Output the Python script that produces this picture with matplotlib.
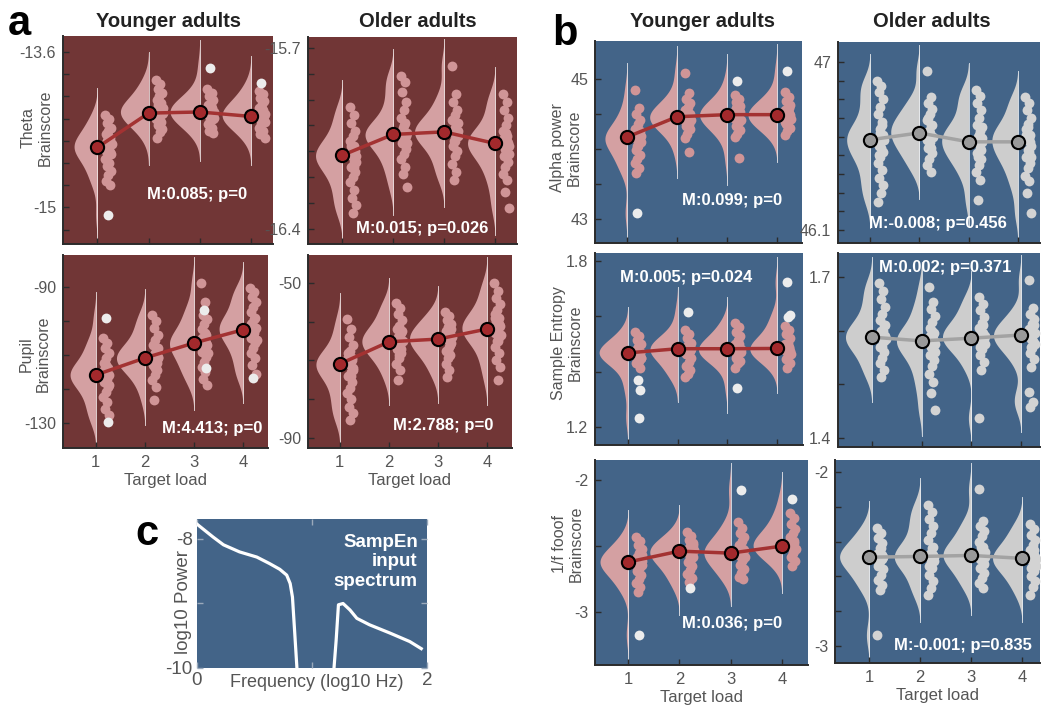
import numpy as np
import matplotlib
matplotlib.use("Agg")
import matplotlib.pyplot as plt

plt.rcParams["font.family"] = ["Liberation Sans", "DejaVu Sans"]

W, H = 1043, 711
LOADS = [1, 2, 3, 4]

# ---- panel a: theta, younger -------------------------------------------
THETA_YA_PTS = [
    [-14.17, -14.2, -14.24, -14.28, -14.31, -14.34, -14.37, -14.4, -14.42, -14.45,
     -14.48, -14.5, -14.53, -14.56, -14.6, -14.63, -14.67, -14.71, -14.76, -14.8,
     -14.4, -14.43, -14.46, -14.49, -14.52, -14.44],
    [-13.85, -13.89, -13.93, -13.97, -14.0, -14.03, -14.06, -14.08, -14.1, -14.12,
     -14.14, -14.16, -14.18, -14.2, -14.23, -14.26, -14.29, -14.32, -14.37,
     -14.1, -14.13, -14.15, -14.17, -14.2, -14.12],
    [-13.93, -13.97, -14.0, -14.03, -14.06, -14.08, -14.1, -14.12, -14.14, -14.16,
     -14.18, -14.2, -14.22, -14.25, -14.28, -14.31, -14.33,
     -14.09, -14.12, -14.14, -14.16, -14.19, -14.11],
    [-13.95, -13.98, -14.01, -14.04, -14.07, -14.1, -14.12, -14.14, -14.16, -14.18,
     -14.2, -14.22, -14.25, -14.28, -14.31, -14.34, -14.37,
     -14.13, -14.16, -14.18, -14.2, -14.23, -14.15],
]
THETA_YA_OUT = [[-15.07], [], [-13.74], [-13.88]]
THETA_YA_MEAN = [-14.46, -14.15, -14.14, -14.18]
THETA_YA_YT = [-15.2, -15.0, -14.8, -14.6, -14.4, -14.2, -14.0, -13.8, -13.6]
THETA_YA_YL = ["", "-15", "", "", "", "", "", "", "-13.6"]

# ---- panel a: theta, older ---------------------------------------------
THETA_OA_PTS = [
    [-15.93, -15.96, -15.99, -16.02, -16.04, -16.06, -16.08, -16.1, -16.12, -16.14,
     -16.16, -16.18, -16.2, -16.22, -16.25, -16.28, -16.31, -16.34,
     -16.08, -16.1, -16.12, -16.14, -16.16, -16.11],
    [-15.81, -15.83, -15.87, -15.91, -15.94, -15.97, -15.99, -16.01, -16.03, -16.05,
     -16.07, -16.09, -16.11, -16.13, -16.16, -16.19, -16.24,
     -16.0, -16.02, -16.04, -16.05, -16.07, -16.03],
    [-15.77, -15.88, -15.91, -15.94, -15.96, -15.98, -16.0, -16.02, -16.04, -16.06,
     -16.08, -16.1, -16.12, -16.15, -16.18, -16.21,
     -15.99, -16.01, -16.03, -16.04, -16.06, -16.02],
    [-15.88, -15.91, -15.94, -15.97, -16.0, -16.02, -16.04, -16.06, -16.08, -16.1,
     -16.12, -16.14, -16.16, -16.19, -16.21, -16.26, -16.32,
     -16.03, -16.05, -16.07, -16.09, -16.11, -16.06],
]
THETA_OA_OUT = [[], [], [], []]
THETA_OA_MEAN = [-16.116, -16.035, -16.025, -16.07]
THETA_OA_YT = [-16.4, -16.3, -16.2, -16.1, -16.0, -15.9, -15.8, -15.7]
THETA_OA_YL = ["-16.4", "", "", "", "", "", "", "-15.7"]

# ---- panel a: pupil, younger -------------------------------------------
PUPIL_YA_PTS = [
    [-105, -106.5, -108, -109.5, -111, -112.5, -114, -115, -116, -117, -118,
     -119.5, -121, -122.5, -124, -126, -127.6,
     -113, -114.5, -116, -117.5, -119, -115.5],
    [-98.2, -100, -102, -104, -105.5, -107, -108.5, -110, -111, -112, -113,
     -114.5, -116, -117.5, -119.4, -123.2,
     -108, -109.5, -111, -112.5, -114, -110.5],
    [-88.8, -94.4, -98.2, -99.5, -101, -102.5, -104, -105.5, -107, -108, -109,
     -110.5, -112, -113.5, -115, -117, -118.8,
     -103.5, -105, -106.5, -108, -109.5, -106],
    [-90.3, -91.5, -93, -94.5, -96, -97.5, -99, -100.5, -102, -103.5, -105,
     -106.5, -108, -109.5, -111, -113, -115.5,
     -99.5, -101, -102.5, -104, -105.5, -102],
]
PUPIL_YA_OUT = [[-99.1, -129.7], [], [-96.8, -113.8], [-116.8]]
PUPIL_YA_MEAN = [-115.9, -110.9, -106.5, -102.6]
PUPIL_YA_YT = [-130, -120, -110, -100, -90]
PUPIL_YA_YL = ["-130", "", "", "", "-90"]

# ---- panel a: pupil, older ---------------------------------------------
PUPIL_OA_PTS = [
    [-59.3, -62, -64, -66, -67.5, -69, -70, -71, -72, -73, -74, -75.5, -77,
     -78.5, -80, -82, -83.5, -85.4, -68, -69.5, -71, -72.5, -74, -70.5],
    [-55.2, -56.5, -58, -59.5, -61, -62, -63, -64, -65, -66, -67, -68, -69.5,
     -71, -72.5, -75, -62.5, -64, -65.5, -67, -68.5, -65],
    [-57.5, -58.5, -59.5, -60.5, -61.5, -62.5, -63.5, -64.5, -65.5, -66.5,
     -67.5, -68.5, -69.5, -71, -72.5, -74.3, -62, -63.5, -64.5, -66, -67.5, -64],
    [-50, -52, -54, -55.5, -57, -58, -59, -60, -61, -62, -63, -64, -65, -66.5,
     -68, -70, -71.7, -75, -59, -60.5, -62, -63.5, -65, -61.5],
]
PUPIL_OA_OUT = [[], [], [], []]
PUPIL_OA_MEAN = [-70.9, -65.2, -64.5, -61.9]
PUPIL_OA_YT = [-90, -80, -70, -60, -50]
PUPIL_OA_YL = ["-90", "", "", "", "-50"]

# ---- panel b: alpha power ----------------------------------------------
ALPHA_YA_PTS = [
    [44.84, 44.59, 44.5, 44.42, 44.35, 44.28, 44.22, 44.16, 44.1, 44.04, 43.98,
     43.92, 43.86, 43.8, 43.73, 43.66, 44.25, 44.2, 44.15, 44.1, 44.05, 44.18],
    [45.09, 44.8, 44.72, 44.65, 44.6, 44.55, 44.5, 44.46, 44.42, 44.38, 44.33,
     44.28, 44.22, 44.16, 43.96, 44.55, 44.5, 44.45, 44.4, 44.35, 44.47],
    [44.77, 44.72, 44.67, 44.62, 44.58, 44.54, 44.5, 44.46, 44.42, 44.38, 44.33,
     44.27, 44.21, 44.17, 43.87, 44.58, 44.53, 44.48, 44.43, 44.38, 44.5],
    [44.81, 44.74, 44.68, 44.63, 44.59, 44.55, 44.51, 44.47, 44.43, 44.39, 44.35,
     44.3, 44.25, 44.2, 44.58, 44.53, 44.48, 44.43, 44.38, 44.5],
]
ALPHA_YA_OUT = [[43.09], [], [44.97], [45.11]]
ALPHA_YA_MEAN = [44.17, 44.46, 44.49, 44.49]
ALPHA_YA_YT = [43, 43.5, 44, 44.5, 45]
ALPHA_YA_YL = ["43", "", "", "", "45"]

ALPHA_OA_PTS = [
    [46.9, 46.87, 46.84, 46.8, 46.76, 46.72, 46.68, 46.64, 46.61, 46.58, 46.55,
     46.52, 46.49, 46.46, 46.42, 46.38, 46.34, 46.3, 46.25,
     46.66, 46.62, 46.58, 46.54, 46.5, 46.6],
    [46.95, 46.81, 46.78, 46.75, 46.72, 46.69, 46.66, 46.63, 46.6, 46.57, 46.54,
     46.51, 46.48, 46.45, 46.41, 46.7, 46.66, 46.62, 46.58, 46.54, 46.63],
    [46.85, 46.82, 46.78, 46.74, 46.7, 46.66, 46.63, 46.6, 46.57, 46.54, 46.51,
     46.48, 46.45, 46.41, 46.37, 46.26, 46.65, 46.61, 46.57, 46.53, 46.49, 46.59],
    [46.81, 46.78, 46.74, 46.7, 46.67, 46.64, 46.61, 46.58, 46.55, 46.52, 46.49,
     46.46, 46.43, 46.39, 46.36, 46.3, 46.19, 46.65, 46.61, 46.57, 46.53, 46.49, 46.59],
]
ALPHA_OA_OUT = [[], [], [], []]
ALPHA_OA_MEAN = [46.583, 46.62, 46.572, 46.572]
ALPHA_OA_YT = [46.1, 46.2, 46.3, 46.4, 46.5, 46.6, 46.7, 46.8, 46.9, 47.0]
ALPHA_OA_YL = ["46.1", "", "", "", "", "", "", "", "", "47"]

# ---- panel b: sample entropy -------------------------------------------
SAMPEN_YA_PTS = [
    [1.544, 1.53, 1.515, 1.5, 1.49, 1.48, 1.47, 1.46, 1.45, 1.44, 1.43, 1.414,
     1.485, 1.475, 1.468, 1.46, 1.45, 1.47],
    [1.551, 1.535, 1.52, 1.505, 1.495, 1.485, 1.475, 1.465, 1.45, 1.435, 1.42,
     1.405, 1.39, 1.382, 1.5, 1.49, 1.483, 1.475, 1.465, 1.48],
    [1.577, 1.56, 1.545, 1.53, 1.515, 1.5, 1.49, 1.48, 1.47, 1.46, 1.45, 1.44,
     1.43, 1.414, 1.5, 1.49, 1.483, 1.475, 1.465, 1.48],
    [1.566, 1.55, 1.535, 1.52, 1.505, 1.495, 1.485, 1.475, 1.465, 1.455, 1.445,
     1.43, 1.414, 1.5, 1.49, 1.484, 1.475, 1.465, 1.48],
]
SAMPEN_YA_OUT = [[1.371, 1.332, 1.234], [1.616], [1.342], [1.724, 1.605, 1.598]]
SAMPEN_YA_MEAN = [1.468, 1.483, 1.483, 1.484]
SAMPEN_YA_YT = [1.2, 1.4, 1.6, 1.8]
SAMPEN_YA_YL = ["1.2", "", "", "1.8"]

SAMPEN_OA_PTS = [
    [1.689, 1.675, 1.66, 1.645, 1.632, 1.62, 1.61, 1.6, 1.59, 1.58, 1.57, 1.56,
     1.55, 1.54, 1.527, 1.514, 1.61, 1.6, 1.59, 1.58, 1.57, 1.585],
    [1.681, 1.653, 1.64, 1.628, 1.616, 1.605, 1.595, 1.585, 1.575, 1.565, 1.555,
     1.545, 1.535, 1.52, 1.505, 1.484, 1.452, 1.6, 1.59, 1.58, 1.57, 1.56, 1.585],
    [1.663, 1.65, 1.638, 1.626, 1.615, 1.605, 1.595, 1.585, 1.575, 1.565, 1.555,
     1.542, 1.527, 1.437, 1.61, 1.6, 1.59, 1.58, 1.57, 1.585],
    [1.694, 1.642, 1.632, 1.622, 1.612, 1.603, 1.594, 1.585, 1.576, 1.567, 1.558,
     1.548, 1.532, 1.486, 1.467, 1.458, 1.61, 1.6, 1.59, 1.58, 1.57, 1.595],
]
SAMPEN_OA_OUT = [[], [], [], []]
SAMPEN_OA_MEAN = [1.588, 1.581, 1.586, 1.592]
SAMPEN_OA_YT = [1.4, 1.5, 1.6, 1.7]
SAMPEN_OA_YL = ["1.4", "", "", "1.7"]

# ---- panel b: 1/f fooof ------------------------------------------------
FOOOF_YA_PTS = [
    [-2.43, -2.46, -2.49, -2.52, -2.55, -2.58, -2.6, -2.62, -2.64, -2.66, -2.69,
     -2.72, -2.75, -2.78, -2.81, -2.85, -2.57, -2.6, -2.62, -2.64, -2.67, -2.61],
    [-2.39, -2.42, -2.45, -2.48, -2.5, -2.52, -2.54, -2.56, -2.58, -2.6, -2.62,
     -2.65, -2.68, -2.71, -2.74, -2.77, -2.49, -2.52, -2.54, -2.56, -2.59, -2.53],
    [-2.32, -2.36, -2.4, -2.43, -2.46, -2.49, -2.52, -2.55, -2.58, -2.61, -2.64,
     -2.67, -2.7, -2.73, -2.75, -2.5, -2.53, -2.55, -2.57, -2.6, -2.54],
    [-2.25, -2.29, -2.33, -2.37, -2.4, -2.43, -2.46, -2.49, -2.52, -2.55, -2.58,
     -2.61, -2.65, -2.45, -2.48, -2.5, -2.52, -2.55, -2.49],
]
FOOOF_YA_OUT = [[-3.17], [-2.82], [-2.075], [-2.14]]
FOOOF_YA_MEAN = [-2.62, -2.538, -2.553, -2.5]
FOOOF_YA_YT = [-3.0, -2.5, -2.0]
FOOOF_YA_YL = ["-3", "", "-2"]

FOOOF_OA_PTS = [
    [-2.32, -2.35, -2.38, -2.41, -2.44, -2.47, -2.5, -2.53, -2.56, -2.59, -2.62,
     -2.65, -2.68, -2.94, -2.44, -2.47, -2.49, -2.51, -2.54, -2.48],
    [-2.19, -2.23, -2.27, -2.31, -2.35, -2.39, -2.43, -2.47, -2.51, -2.55, -2.59,
     -2.63, -2.67, -2.71, -2.44, -2.47, -2.49, -2.51, -2.54, -2.48],
    [-2.1, -2.28, -2.31, -2.34, -2.37, -2.4, -2.43, -2.46, -2.49, -2.52, -2.55,
     -2.58, -2.61, -2.64, -2.67, -2.43, -2.46, -2.48, -2.5, -2.53, -2.47],
    [-2.3, -2.33, -2.36, -2.39, -2.42, -2.45, -2.48, -2.51, -2.54, -2.57, -2.6,
     -2.63, -2.66, -2.71, -2.45, -2.48, -2.5, -2.52, -2.55, -2.49],
]
FOOOF_OA_OUT = [[], [], [], []]
FOOOF_OA_MEAN = [-2.49, -2.486, -2.48, -2.497]
FOOOF_OA_YT = [-3.0, -2.8, -2.6, -2.4, -2.2, -2.0]
FOOOF_OA_YL = ["-3", "", "", "", "", "-2"]

# ---- panel c: SampEn input spectrum ------------------------------------
SPEC_LO_X = [0.0, 0.084, 0.14, 0.23, 0.37, 0.52, 0.63, 0.72, 0.78, 0.81, 0.83, 0.85, 0.87, 0.88]
SPEC_LO_Y = [-7.77, -7.89, -7.97, -8.09, -8.2, -8.28, -8.38, -8.47, -8.56, -8.69, -8.9, -9.46, -10.03, -10.3]
SPEC_HI_X = [1.18, 1.19, 1.21, 1.23, 1.27, 1.33, 1.39, 1.5, 1.68, 1.85, 1.95]
SPEC_HI_Y = [-10.3, -10.03, -9.57, -9.02, -9.0, -9.1, -9.23, -9.33, -9.46, -9.59, -9.7]

MAROON = "#713636"
BLUE = "#436488"
TXT = "#555555"

fig = plt.figure(figsize=(W / 100, H / 100), dpi=100)


def add_ax(l, t, r, b, bg):
    ax = fig.add_axes([l / W, 1 - b / H, (r - l) / W, (b - t) / H])
    ax.set_facecolor(bg)
    for s in ("top", "right"):
        ax.spines[s].set_visible(False)
    for s in ("left", "bottom"):
        ax.spines[s].set_color("#2b2b2b")
        ax.spines[s].set_linewidth(1.4)
    ax.tick_params(direction="in", length=4, width=1, color="#2b2b2b",
                   labelcolor=TXT, labelsize=11.5, pad=5)
    return ax


def kde(vals, grid, bw):
    v = np.asarray(vals, dtype=float)[:, None]
    z = (grid[None, :] - v) / bw
    return np.exp(-0.5 * z ** 2).sum(0) / (len(vals) * bw * np.sqrt(2 * np.pi))


def raincloud(ax, pts, outs, means, ylim, xlim, yt, yl, grey=False, xlab=False):
    vcol = "#cdcdcd" if grey else "#d4a0a2"
    pcol = "#d3d3d3" if grey else "#d09597"
    mcol = "#9a9a9a" if grey else "#a3292c"
    lcol = "#a3a3a3" if grey else "#a33232"
    bw = 0.055 * (ylim[1] - ylim[0])
    grids, dens = [], []
    for p, o in zip(pts, outs):
        allv = list(p) + list(o)
        g = np.linspace(min(allv) - 2.4 * bw, max(allv) + 2.4 * bw, 300)
        grids.append(g)
        dens.append(kde(allv, g, bw))
    scale = 0.58 / max(d.max() for d in dens)
    for x, g, d in zip(LOADS, grids, dens):
        ax.fill_betweenx(g, x - d * scale, x, color=vcol, lw=0, zorder=1)
        ax.plot([x, x], [g[0], g[-1]], color="white", lw=0.7, alpha=0.7, zorder=1.5)
    for x, p, o in zip(LOADS, pts, outs):
        k = np.arange(len(p))
        ax.scatter(x + 0.15 + 0.13 * ((k * 0.618) % 1), p, s=50, color=pcol, lw=0, zorder=2)
        if o:
            k = np.arange(len(o))
            ax.scatter(x + 0.2 + 0.08 * ((k * 0.618) % 1), o, s=50, color="#ececec",
                       lw=0, zorder=2)
    ax.plot(LOADS, means, color=lcol, lw=2.5, zorder=3)
    ax.plot(LOADS, means, "o", ms=9.5, mfc=mcol, mec="black", mew=1.5, zorder=4)
    ax.set_xlim(*xlim)
    ax.set_ylim(*ylim)
    ax.set_yticks(yt)
    ax.set_yticklabels(yl)
    ax.set_xticks(LOADS)
    if xlab:
        ax.set_xticklabels([str(v) for v in LOADS], fontsize=12)
        ax.set_xlabel("Target load", fontsize=12, color=TXT, labelpad=2)
    else:
        ax.set_xticklabels([])


def ftext(x, y, s, **kw):
    fig.text(x / W, 1 - y / H, s, **kw)


# panel a
ax = add_ax(63, 36, 273, 244, MAROON)
raincloud(ax, THETA_YA_PTS, THETA_YA_OUT, THETA_YA_MEAN, (-15.33, -13.455), (0.33, 4.43),
          THETA_YA_YT, THETA_YA_YL)
ax = add_ax(308, 37, 517, 244, MAROON)
raincloud(ax, THETA_OA_PTS, THETA_OA_OUT, THETA_OA_MEAN, (-16.46, -15.657), (0.33, 4.43),
          THETA_OA_YT, THETA_OA_YL)
ax = add_ax(63, 255, 268, 448, MAROON)
raincloud(ax, PUPIL_YA_PTS, PUPIL_YA_OUT, PUPIL_YA_MEAN, (-137.4, -80.6), (0.33, 4.51),
          PUPIL_YA_YT, PUPIL_YA_YL, xlab=True)
ax = add_ax(308, 255, 512, 448, MAROON)
raincloud(ax, PUPIL_OA_PTS, PUPIL_OA_OUT, PUPIL_OA_MEAN, (-92.6, -42.8), (0.35, 4.51),
          PUPIL_OA_YT, PUPIL_OA_YL, xlab=True)

# panel b
ax = add_ax(595, 41, 802, 243, BLUE)
raincloud(ax, ALPHA_YA_PTS, ALPHA_YA_OUT, ALPHA_YA_MEAN, (42.66, 45.54), (0.36, 4.5),
          ALPHA_YA_YT, ALPHA_YA_YL)
ax = add_ax(838, 42, 1040, 243, BLUE)
raincloud(ax, ALPHA_OA_PTS, ALPHA_OA_OUT, ALPHA_OA_MEAN, (46.03, 47.107), (0.35, 4.45),
          ALPHA_OA_YT, ALPHA_OA_YL, grey=True)
ax = add_ax(595, 253, 803, 445, BLUE)
raincloud(ax, SAMPEN_YA_PTS, SAMPEN_YA_OUT, SAMPEN_YA_MEAN, (1.135, 1.829), (0.34, 4.52),
          SAMPEN_YA_YT, SAMPEN_YA_YL)
ax = add_ax(838, 253, 1040, 447, BLUE)
raincloud(ax, SAMPEN_OA_PTS, SAMPEN_OA_OUT, SAMPEN_OA_MEAN, (1.383, 1.745), (0.32, 4.38),
          SAMPEN_OA_YT, SAMPEN_OA_YL, grey=True)
ax = add_ax(595, 460, 808, 665, BLUE)
raincloud(ax, FOOOF_YA_PTS, FOOOF_YA_OUT, FOOOF_YA_MEAN, (-3.40, -1.848), (0.35, 4.51),
          FOOOF_YA_YT, FOOOF_YA_YL, xlab=True)
ax = add_ax(835, 460, 1040, 663, BLUE)
raincloud(ax, FOOOF_OA_PTS, FOOOF_OA_OUT, FOOOF_OA_MEAN, (-3.10, -1.93), (0.33, 4.35),
          FOOOF_OA_YT, FOOOF_OA_YL, grey=True, xlab=True)

# panel c
ax = add_ax(197, 519, 427, 668, BLUE)
for s in ("left", "bottom"):
    ax.spines[s].set_visible(False)
ax.plot(SPEC_LO_X, SPEC_LO_Y, color="white", lw=2.3)
ax.plot(SPEC_HI_X, SPEC_HI_Y, color="white", lw=2.3)
ax.set_xlim(0, 2)
ax.set_ylim(-10, -7.69)
ax.set_xticks([0, 1, 2])
ax.set_xticklabels(["0", "", "2"])
ax.set_yticks([-10, -9, -8])
ax.set_yticklabels(["-10", "", "-8"])
ax.tick_params(labelsize=13.5, top=True, right=True, color="#9aa9bb", pad=3)
ax.text(0.52, -0.1, "Frequency (log10 Hz)", transform=ax.transAxes, ha="center",
        va="center", fontsize=13, color=TXT)
ax.text(-0.06, 0.44, "log10 Power", transform=ax.transAxes, ha="center", va="center",
        rotation=90, fontsize=13.5, color=TXT)
ax.text(0.96, 0.9, "SampEn\ninput\nspectrum", transform=ax.transAxes, ha="right",
        va="top", fontsize=13.5, fontweight="bold", color="white")

# titles, labels, stats
for x, s in ((168, "Younger adults"), (418, "Older adults"),
             (703, "Younger adults"), (932, "Older adults")):
    ftext(x, 27, s, ha="center", va="baseline", fontsize=14.5, fontweight="bold",
          color="#222222")
for x, y, s in ((8, 35, "a"), (552, 45, "b"), (135, 545, "c")):
    ftext(x, y, s, ha="left", va="baseline", fontsize=30, fontweight="bold", color="black")
for x, y, s in ((37, 128, "Theta\nBrainscore"), (35, 354, "Pupil\nBrainscore"),
                (566, 148, "Alpha power\nBrainscore"),
                (567, 343, "Sample Entropy\nBrainscore"),
                (568, 544, "1/f fooof\nBrainscore")):
    ftext(x, y, s, ha="center", va="center", rotation=90, fontsize=11.5, color=TXT,
          multialignment="center")
for x, y, s in ((197, 199, "M:0.085; p=0"), (422, 233, "M:0.015; p=0.026"),
                (212, 433, "M:4.413; p=0"), (443, 430, "M:2.788; p=0"),
                (732, 205, "M:0.099; p=0"), (938, 228, "M:-0.008; p=0.456"),
                (686, 282, "M:0.005; p=0.024"), (945, 272, "M:0.002; p=0.371"),
                (732, 628, "M:0.036; p=0"), (963, 650, "M:-0.001; p=0.835")):
    ftext(x, y, s, ha="center", va="baseline", fontsize=12, fontweight="bold",
          color="white")

fig.savefig("out.png", dpi=100)
